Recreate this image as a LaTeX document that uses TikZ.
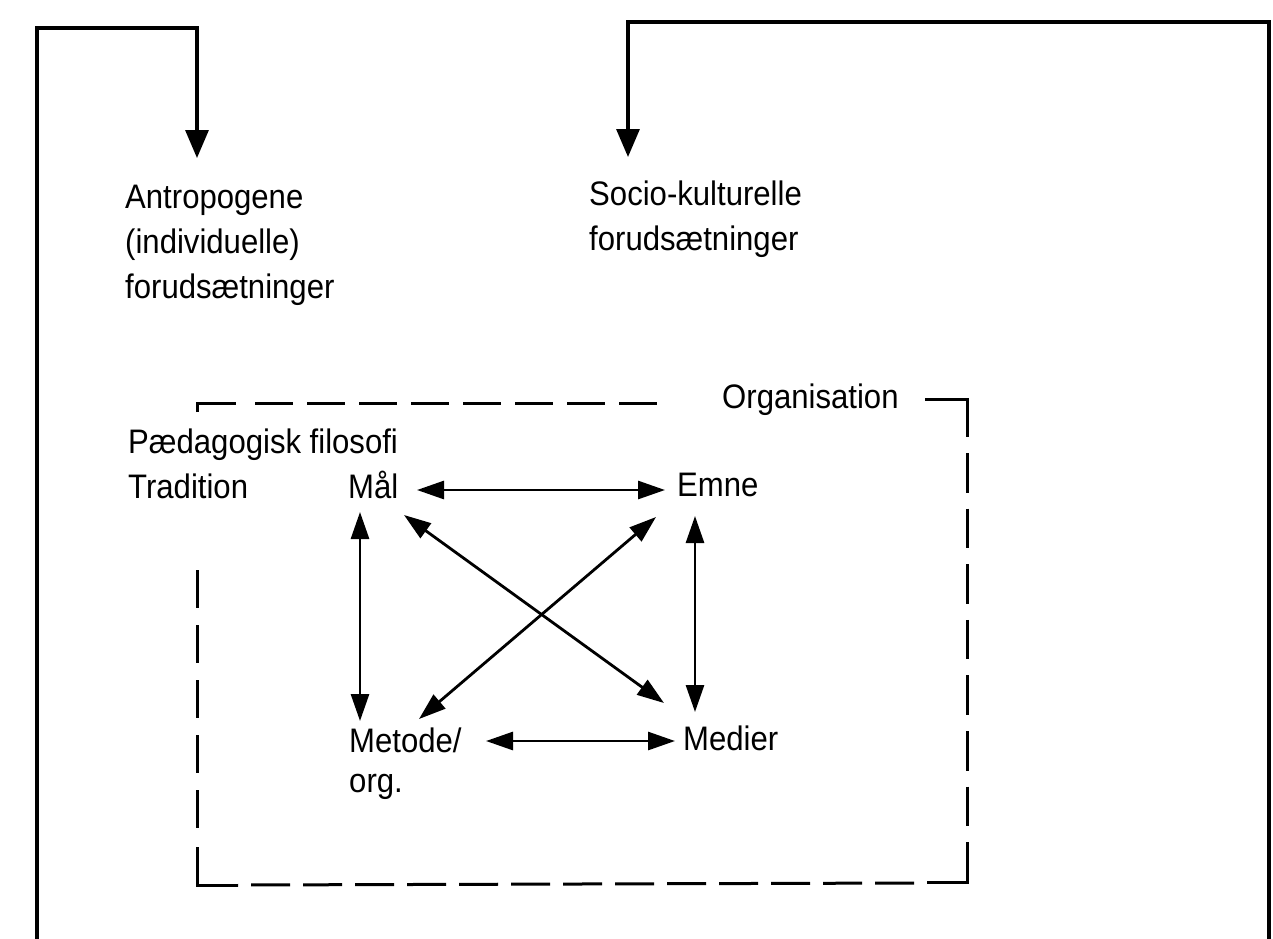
\documentclass[tikz,border=0pt]{standalone}
\usepackage{fontspec}
\setmainfont{Liberation Sans}[FakeStretch=0.915]
\usetikzlibrary{arrows.meta,calc}
\tikzset{
  txt/.style={font=\fontsize{34}{45}\selectfont, inner sep=0pt, anchor=base west, align=left},
  outline/.style={line width=3.2pt, line join=miter},
  outarr/.style={outline, -{Triangle[length=28pt,width=23pt]}},
  dblarr/.style={line width=2.8pt, >={Triangle[length=27pt,width=18pt]}, <->},
  frame/.style={line width=3pt, line join=miter},
}
\begin{document}
\begin{tikzpicture}[x=1pt,y=-1pt]
\useasboundingbox (0,0) rectangle (1273,938);
\fill[white] (0,0) rectangle (1273,938);

% text nodes (multi-line nodes: base = baseline of the last line)
\node[txt] (antro) at (125,298) {Antropogene\\(individuelle)\\forudsætninger};
\node[txt] (socio) at (589,250) {Socio-kulturelle\\forudsætninger};
\node[txt] (org) at (722,408) {Organisation};
\node[txt] (paed) at (128,498) {Pædagogisk filosofi\\Tradition};
\node[txt] (mal) at (348,498) {Mål};
\node[txt] (emne) at (677,496) {Emne};
\node[txt, font=\fontsize{34}{40}\selectfont] (metode) at (349,792) {Metode/\\org.};
\node[txt] (medier) at (683,750) {Medier};

% outer feedback lines
\coordinate (lfoot) at (37,940);
\coordinate (ltop) at (197,28);
\coordinate (antroin) at (197,158);
\draw[outarr] (lfoot) |- (ltop) -- (antroin);
\coordinate (rfoot) at (1269,940);
\coordinate (rtop) at (628,22);
\coordinate (socioin) at (628,157);
\draw[outarr] (rfoot) |- (rtop) -- (socioin);

% dashed frame (organisation)
\draw[frame] (197,412) -- (197,403) -- (236,403);
\draw[frame, dash pattern=on 38pt off 14pt] (255,403) -- (657,403);
\draw[frame] (925,399) -- (967,399) -- (967,437);
\draw[frame, dash pattern=on 39.6pt off 16pt] (967,453) -- (967,842);
\draw[frame] (927,882) -- (967,882) -- (967,842);
\draw[frame, dash pattern=on 39pt off 13pt] (914,883) -- (238,885);
\draw[frame] (238,885) -- (197,885) -- (197,847);
\draw[frame, dash pattern=on 38pt off 17pt] (197,570) -- (197,830);

% arrow end points, placed around the nodes
\coordinate (mal-e)  at ($(mal.base west)+(69,-8)$);
\coordinate (emne-w) at ($(emne.base west)+(-12,-6)$);
\coordinate (mal-s)  at ($(mal.base west)+(12,14)$);
\coordinate (met-n)  at ($(metode.base west)+(11,-71)$);
\coordinate (emne-s) at ($(emne.base west)+(18,20)$);
\coordinate (med-n)  at ($(medier.base west)+(12,-38)$);
\coordinate (met-e)  at ($(metode.base west)+(137,-51)$);
\coordinate (med-w)  at ($(medier.base west)+(-8,-9)$);
\coordinate (mal-se) at ($(mal.base west)+(56,17)$);
\coordinate (med-nw) at ($(medier.base west)+(-19,-47)$);
\coordinate (met-ne) at ($(metode.base west)+(70,-73)$);
\coordinate (emne-sw) at ($(emne.base west)+(-21,21)$);

\draw[dblarr] (mal-e) -- (emne-w);
\draw[dblarr] (mal-s) -- (met-n);
\draw[dblarr] (emne-s) -- (med-n);
\draw[dblarr] (met-e) -- (med-w);
\draw[dblarr] (mal-se) -- (med-nw);
\draw[dblarr] (met-ne) -- (emne-sw);
\end{tikzpicture}
\end{document}
